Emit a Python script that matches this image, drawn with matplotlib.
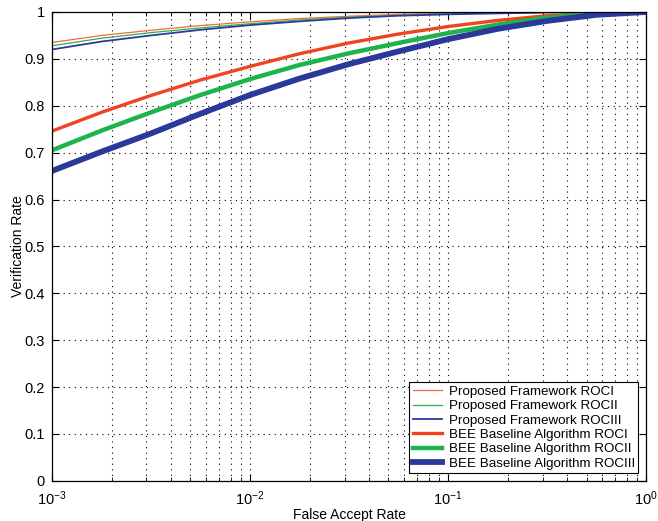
import matplotlib
matplotlib.use("Agg")
import matplotlib.pyplot as plt
from matplotlib.ticker import LogLocator, NullFormatter, MultipleLocator

plt.rcParams['font.family'] = ['Liberation Sans', 'DejaVu Sans']
plt.rcParams['mathtext.fontset'] = 'custom'
plt.rcParams['mathtext.rm'] = 'Liberation Sans'

# false accept rate samples
far = [1e-3, 10**-2.75, 10**-2.5, 10**-2.25, 1e-2, 10**-1.75, 10**-1.5, 10**-1.25, 1e-1, 10**-0.75, 10**-0.5, 10**-0.25, 1.0]

prop_roc1 = [0.935, 0.950, 0.961, 0.971, 0.979, 0.986, 0.991, 0.995, 0.997, 0.998, 0.999, 1.0, 1.0]
prop_roc2 = [0.928, 0.944, 0.956, 0.966, 0.975, 0.983, 0.989, 0.993, 0.996, 0.998, 0.999, 1.0, 1.0]
prop_roc3 = [0.920, 0.937, 0.950, 0.962, 0.972, 0.980, 0.987, 0.992, 0.995, 0.997, 0.999, 1.0, 1.0]
bee_roc1 = [0.746, 0.786, 0.822, 0.855, 0.884, 0.911, 0.934, 0.953, 0.969, 0.982, 0.992, 0.998, 1.0]
bee_roc2 = [0.705, 0.747, 0.786, 0.823, 0.857, 0.887, 0.912, 0.934, 0.955, 0.973, 0.988, 0.997, 1.0]
bee_roc3 = [0.661, 0.702, 0.741, 0.783, 0.823, 0.858, 0.889, 0.916, 0.942, 0.964, 0.981, 0.994, 1.0]

labels = ['Proposed Framework ROCI', 'Proposed Framework ROCII', 'Proposed Framework ROCIII',
          'BEE Baseline Algorithm ROCI', 'BEE Baseline Algorithm ROCII', 'BEE Baseline Algorithm ROCIII']

fig = plt.figure(figsize=(6.58, 5.21), dpi=100)
ax = fig.add_axes([0.079, 0.077, 0.903, 0.900])

ax.plot(far, prop_roc1, color='#f26b3c', lw=0.9, label=labels[0])
ax.plot(far, prop_roc2, color='#2fb04a', lw=0.9, label=labels[1])
ax.plot(far, prop_roc3, color='#2b3b9c', lw=1.3, label=labels[2])
ax.plot(far, bee_roc1, color='#f0431f', lw=2.4, label=labels[3])
ax.plot(far, bee_roc2, color='#1fb34c', lw=3.2, label=labels[4])
ax.plot(far, bee_roc3, color='#2b3a9a', lw=4.2, label=labels[5])

ax.set_xscale('log')
ax.set_xlim(1e-3, 1)
ax.set_ylim(0, 1)
ax.yaxis.set_major_locator(MultipleLocator(0.1))
ax.yaxis.set_major_formatter(plt.FuncFormatter(lambda v, p: '%g' % round(v, 1)))
ax.xaxis.set_major_locator(LogLocator(base=10))
ax.xaxis.set_minor_locator(LogLocator(base=10, subs=range(2, 10)))
ax.xaxis.set_minor_formatter(NullFormatter())

ax.grid(True, which='major', axis='both', linestyle=(0, (1, 4)), color='black', linewidth=0.8)
ax.grid(True, which='minor', axis='x', linestyle=(0, (1, 4)), color='black', linewidth=0.8)
ax.tick_params(which='both', direction='in', top=True, right=True, labelsize=10.5)
ax.tick_params(which='major', length=5)
ax.tick_params(which='minor', length=3)
ax.tick_params(axis='x', which='major', pad=6)
ax.tick_params(axis='y', which='major', pad=5)
for s in ax.spines.values():
    s.set_linewidth(0.9)

ax.set_xlabel('False Accept Rate', fontsize=10, labelpad=0)
ax.set_ylabel('Verification Rate', fontsize=10, labelpad=0)

leg = ax.legend(loc='lower right', fontsize=9.6, fancybox=False, edgecolor='black',
                framealpha=1, handlelength=2.2, handletextpad=0.5, borderpad=0.25,
                labelspacing=0.15, borderaxespad=0.6)
leg.get_frame().set_linewidth(0.8)

fig.savefig('out.png', dpi=100)
